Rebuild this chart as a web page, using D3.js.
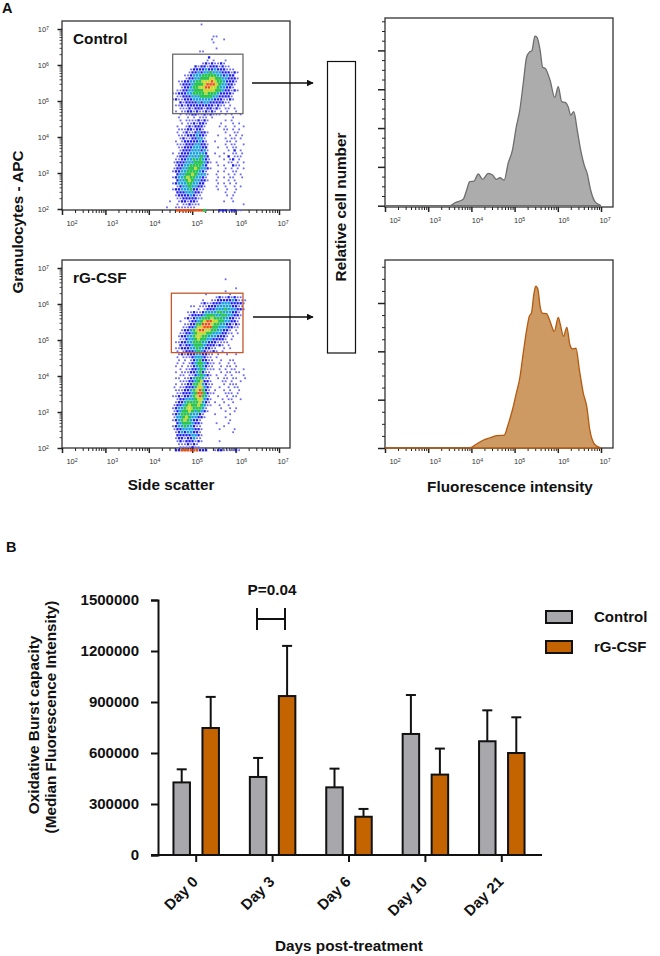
<!DOCTYPE html>
<html>
<head>
<meta charset="utf-8">
<script src="https://cdn.jsdelivr.net/npm/d3@7/dist/d3.min.js"></script>
<style>
html,body{margin:0;padding:0;background:#fff}
svg{display:block}
text{font-family:"Liberation Sans",Arial,sans-serif;fill:#111}
</style>
</head>
<body>
<svg id="fig" width="660" height="956"></svg>
<script>
// Flow cytometry density maps: each digit is the density class of one grid cell,
// rows run downward in log10 APC, columns run rightward in log10 side scatter.
const densityControl = [
"000000000000000000000000000000",
"000000000000010000000000000000",
"000000000000000000000000000000",
"000000000000000000000000000000",
"000000000000000000000000000000",
"000000000000000001100000000000",
"000000000000000001000100000000",
"000000000000000001000000000000",
"000000000000000000000000000000",
"000000000000000000100000000000",
"000000000000011000000000000000",
"000000000000000000000000000000",
"000000000000000020000000000000",
"000000000000000101000100000000",
"000000000000001212112100000000",
"000000000002122122212110000000",
"000000000012222322322211100000",
"000000000122323343332221210000",
"000000001123334444433232200000",
"000000001223344455443322210000",
"000000112233445556544322210000",
"000000122234445666543322100000",
"000000012234455665543322100000",
"000001122334445555443221210000",
"000011222334444544432222100000",
"000001122233344443322221000000",
"000012112223333333222112100000",
"000000212222323322222110000000",
"000001121222222222121101000000",
"000000111212221221210110100000",
"000001011221211212101010010000",
"000000101122112121110101001000",
"000000100101011101000000100000",
"000000101111212100000101000000",
"000000010112122100001000101000",
"000001001212221000010100100100",
"000000111221221000000110101000",
"000001012112322100000100110000",
"000000111222322100010001010100",
"000000121122331000000101101000",
"000001012222232100100011010000",
"000001112223322100000101100100",
"000000112223332200010010110000",
"000000122233323100000010201000",
"000010122233333200100100110100",
"000001222333343200010020111000",
"000001122334343210000101201000",
"000012223334443210100011010100",
"000001223344443200010100211000",
"000012233445433210000101010100",
"000012233444432100010100110000",
"000002334454333100100010101000",
"000012334544332100010101100100",
"000002334543322100100010100000",
"000012333443322000010101010000",
"000001233433221000100100101000",
"000012233342211000010010010000",
"000002223332210000000100100000",
"000001222232110000000010100000",
"000001122222110000000001000000",
"000100122122100000000100100000",
"000001011211100000000000000100",
"001001111111000000000000000000",
"000006666666664000022212211000"
];
const densityTreated = [
"000000000000000000000000000000",
"000000000000000000000100000000",
"000000000000000000000000000000",
"000000000000000000000000000000",
"000000000000000000000000010000",
"000000000000000000000100000000",
"000000000000000100000001000000",
"000000000000000000121121211000",
"000000000000001001122222321110",
"000000000000012112223332222100",
"000000000011011122233333221100",
"000000000000101222333433322100",
"000000000112112333344333221000",
"000000000122223444334433221000",
"000000001212334445444332211000",
"000000100122345665544332210000",
"000000001122446665443322121000",
"000000011223556664433322110000",
"000000012234566554433221010000",
"000000112234555443332211010000",
"000000122334554433322210100000",
"000000112334544332222101000000",
"000001122334443322211110000000",
"000000212234443222121010000000",
"000001122233433221100101000000",
"000001012223432112101000000000",
"000000121222332211010010010000",
"000001011123332110100000000000",
"000000101012342211001001100000",
"000001010123443211010010100000",
"000001010112343211001011010000",
"000000101122343111010101100100",
"000001011122342110001011011000",
"000000110112343210100101000100",
"000001101123443110010110110010",
"000000111223452210001101001000",
"000001011224453211000101110000",
"000010112223553210010010110000",
"000001112234564210100101001000",
"000001122234664211000111010000",
"000011212234564310010010110000",
"000001223334553210001011001000",
"000001223444453210100100100000",
"000012234544543110010010000000",
"000012334554443100001001010000",
"000012344543432100000100100000",
"000012344433321000100001000000",
"000013345433221000000100000000",
"000012345432210000000001000000",
"000002344432210000100010000000",
"000012334332110000000100000000",
"000012233332210000010000100000",
"000001232332210000000000100000",
"000002222233210000000000000000",
"000001221223110000000000000000",
"000001212221210000010000000000",
"000000111212100000000000000000",
"000000111121100000000000000000",
"000002266666622200122111121000"
];
const densityColors = ["none","#6a6af2","#1c1ce6","#18a0dc","#2cc454","#c8d830","#ec5014"];
const densityDotSize = [0,1.8,2.3,2.6,3,3,2.6];

// Log10 location of the density grid and the size of one of its cells, in decades.
const gridFirstCol = 4.28;
const gridColStep = 0.0693;
const gridRowStep = 0.0833;
const gridFirstRowControl = 7.21;
const gridFirstRowTreated = 6.77;

// Gates, in log10 units of side scatter and APC.
const gateControl = {x0: 4.55, x1: 6.17, y0: 4.65, y1: 6.30};
const gateTreated = {x0: 4.52, x1: 6.17, y0: 4.65, y1: 6.30};

// Fluorescence histograms: log10 intensity and relative count.
const histControlX = [2,3.34,3.5,3.62,3.81,3.89,3.96,4.06,4.16,4.26,4.39,4.49,4.58,4.66,4.76,4.85,4.95,5.04,5.12,5.2,5.28,5.35,5.4,5.47,5.52,5.59,5.65,5.71,5.82,5.93,6.01,6.09,6.17,6.24,6.3,6.37,6.45,6.53,6.61,6.68,6.76,6.86,7];
const histControlY = [0,0,0,1.9,4.1,10.1,15.5,15.9,20.4,17,20.8,19.7,17,18,16.5,27.3,35.8,50.9,61.6,78.8,95.9,99.1,99.8,109.2,108.4,100.2,89.1,88.4,80.9,69.7,76.6,67,66.5,63.7,58.4,60.5,48.7,35.8,26.2,20.8,10.1,2.6,0];
const histTreatedX = [2,3.89,4,4.12,4.27,4.43,4.58,4.76,4.85,4.95,5.04,5.12,5.2,5.28,5.34,5.39,5.45,5.49,5.54,5.59,5.64,5.74,5.82,5.92,6.01,6.06,6.13,6.21,6.28,6.34,6.42,6.5,6.59,6.67,6.74,6.86,7];
const histTreatedY = [0,0,0.3,2.1,4,5.3,6.4,6.7,12.1,19.8,28.4,36.2,49.1,61.2,68.1,69.8,80.2,83.7,82,73.3,69.8,69.5,65.5,60.3,67.6,63.8,57.8,62.4,53.4,51.3,51.6,40.4,28.4,21.5,9.5,1.7,0];

// Oxidative burst bars.
const days = ["Day 0","Day 3","Day 6","Day 10","Day 21"];
const groups = ["Control","rG-CSF"];
const controlMeans = [427000,459000,398000,712000,669000];
const controlUpper = [504000,571000,508000,941000,851000];
const treatedMeans = [747000,935000,225000,473000,600000];
const treatedUpper = [930000,1230000,271000,626000,810000];
const burstTicks = [0,300000,600000,900000,1200000,1500000];
const decades = [2,3,4,5,6,7];

const GREY = "#a8a8ac", ORANGE = "#c46400", INK = "#111";
const groupFill = {"Control": GREY, "rG-CSF": ORANGE};
const svg = d3.select("#fig");

// Dots in the density maps are slightly soft.
svg.append("defs").append("filter").attr("id", "soft")
  .append("feGaussianBlur").attr("stdDeviation", 0.3);

function label(x, y, str, opts = {}) {
  const t = svg.append("text").attr("x", x).attr("y", y).text(str)
    .attr("font-size", opts.size || 15.3).attr("font-weight", opts.weight || "bold")
    .attr("text-anchor", opts.anchor || "middle");
  if (opts.rotate !== undefined) t.attr("transform", `rotate(${opts.rotate} ${x} ${y})`);
  return t;
}

// All tick positions of a log axis between 10^2 and 10^7.
const logTicks = d3.range(2, 7).flatMap(e => d3.range(1, 10).map(m => m * 10 ** e)).concat(1e7);
const isMajor = v => Math.abs(Math.log10(v) % 1) < 1e-9;
const labelShift = [10, 7, 6, 5, 6, 4];

function decadeLabel(sel, x, y, exp, anchor) {
  const t = sel.append("text").attr("x", x).attr("y", y).attr("text-anchor", anchor)
    .attr("font-size", 7.5).attr("font-weight", "normal").style("fill", "#333");
  t.append("tspan").text("10");
  t.append("tspan").text(exp).attr("font-size", 5.2).attr("dy", -2.5);
}

// Shared frame and bottom log axis for the four cytometry panels.
function flowFrame(box, xScale) {
  const g = svg.append("g");
  g.append("rect").attr("x", box.x0).attr("y", box.y0)
    .attr("width", box.x1 - box.x0).attr("height", box.y1 - box.y0)
    .attr("fill", "none").attr("stroke", "#333").attr("stroke-width", 1.3);
  const axis = g.append("g").attr("transform", `translate(0,${box.y1})`)
    .call(d3.axisBottom(xScale).tickValues(logTicks).tickSize(3).tickFormat(""));
  axis.select(".domain").remove();
  axis.selectAll(".tick line").attr("stroke", "#222")
    .attr("y2", d => isMajor(d) ? 5 : 3).attr("stroke-width", d => isMajor(d) ? 1.5 : 1);
  decades.forEach((e, i) =>
    decadeLabel(g, xScale(10 ** e) + labelShift[i], box.y1 + 16, e, "middle"));
  return g;
}

function dotPanel(box, yBase, name, grid, firstRow, gate, gateColor) {
  const x = d3.scaleLog().domain([1e2, 1e7]).range([62, 279]);
  const y = d3.scaleLog().domain([1e2, 1e7]).range([yBase, yBase - 180]);
  const g = flowFrame(box, x);
  const axis = g.append("g").attr("transform", `translate(${box.x0},0)`)
    .call(d3.axisLeft(y).tickValues(logTicks).tickSize(3).tickFormat(""));
  axis.select(".domain").remove();
  axis.selectAll(".tick line").attr("stroke", "#222")
    .attr("x2", d => isMajor(d) ? -4.5 : -2.5).attr("stroke-width", d => isMajor(d) ? 1.5 : 0.8);
  decades.forEach(e => decadeLabel(g, box.x0 - 13, y(10 ** e) + 3, e, "end"));

  // Odd rows sit half a cell across so the map reads as scattered events.
  const cells = grid.flatMap((row, r) => row.split("").map((c, k) => ({
    lx: gridFirstCol + (k + (r % 2) / 2) * gridColStep, ly: firstRow - r * gridRowStep, level: +c
  }))).filter(d => d.level > 0);
  g.append("g").attr("filter", "url(#soft)").selectAll("rect").data(cells).join("rect")
    .attr("x", d => x(10 ** d.lx) - densityDotSize[d.level] / 2)
    .attr("y", d => y(10 ** d.ly) - densityDotSize[d.level] / 2)
    .attr("width", d => densityDotSize[d.level]).attr("height", d => densityDotSize[d.level])
    .attr("fill", d => densityColors[d.level]);

  g.append("rect").attr("x", x(10 ** gate.x0)).attr("y", y(10 ** gate.y1))
    .attr("width", x(10 ** gate.x1) - x(10 ** gate.x0))
    .attr("height", y(10 ** gate.y0) - y(10 ** gate.y1))
    .attr("fill", "none").attr("stroke", gateColor).attr("stroke-width", 1.3);
  label(box.x0 + 11, box.y0 + 23, name, {anchor: "start", size: 15.3});
}

function histPanel(box, yScale, xs, ys, fill, line, yTicks) {
  const x = d3.scaleLog().domain([1e2, 1e7]).range([385, 601]);
  const g = flowFrame(box, x);
  const axis = g.append("g").attr("transform", `translate(${box.x0},0)`)
    .call(d3.axisLeft(yScale).tickValues(yTicks).tickFormat(""));
  axis.select(".domain").remove();
  axis.selectAll(".tick line").attr("stroke", "#222")
    .attr("x2", d => d % 25 === 0 ? -7 : -3).attr("stroke-width", d => d % 25 === 0 ? 1.5 : 1);
  const area = d3.area().x(d => x(10 ** d[0])).y0(yScale(0)).y1(d => yScale(d[1])).curve(d3.curveMonotoneX);
  g.append("path").datum(d3.zip(xs, ys)).attr("d", area)
    .attr("fill", fill).attr("stroke", line).attr("stroke-width", 1.3);
}

dotPanel({x0: 62, x1: 290, y0: 21, y1: 210}, 209, "Control", densityControl, gridFirstRowControl, gateControl, "#6c6c6c");
dotPanel({x0: 62, x1: 290, y0: 260, y1: 448}, 448, "rG-CSF", densityTreated, gridFirstRowTreated, gateTreated, "#c4582c");

histPanel({x0: 385, x1: 613, y0: 18, y1: 207},
  d3.scaleLinear().domain([0, 100]).range([205.7, 50.4]),
  histControlX, histControlY, "#acacac", "#6e6e6e", d3.range(0, 125, 6.25));
histPanel({x0: 385, x1: 613, y0: 260, y1: 448},
  d3.scaleLinear().domain([0, 75]).range([448, 303]),
  histTreatedX, histTreatedY, "#cc9a62", "#b45a10", d3.range(0, 95, 6.25));

label(2, 13, "A", {anchor: "start", size: 14.5});
label(6, 552, "B", {anchor: "start", size: 14.5});
label(23, 222, "Granulocytes - APC", {rotate: -90});
label(171, 490, "Side scatter");
label(510, 492, "Fluorescence intensity");

// Box naming the shared histogram axis, and the arrows pointing at it.
svg.append("rect").attr("x", 327.5).attr("y", 61.5).attr("width", 28).attr("height", 291.5)
  .attr("fill", "#fff").attr("stroke", INK).attr("stroke-width", 1.2);
label(345.5, 207, "Relative cell number", {rotate: -90});
svg.select("defs").append("marker").attr("id", "head").attr("viewBox", "0 0 10 10")
  .attr("refX", 9).attr("refY", 5).attr("markerWidth", 7).attr("markerHeight", 7)
  .attr("markerUnits", "userSpaceOnUse").attr("orient", "auto")
  .append("path").attr("d", "M0,0L10,5L0,10Z").attr("fill", INK);
[[252, 83], [253, 317]].forEach(([ax, ay]) =>
  svg.append("line").attr("x1", ax).attr("x2", 313).attr("y1", ay).attr("y2", ay)
    .attr("stroke", INK).attr("stroke-width", 1.5).attr("marker-end", "url(#head)"));

// Panel B: grouped bars with upper error bars.
const bandX = d3.scaleBand().domain(days).range([158, 540]).padding(0);
const groupX = d3.scaleBand().domain(groups)
  .range([bandX.bandwidth() / 2 - 22.75, bandX.bandwidth() / 2 + 22.75])
  .paddingInner(0.431).paddingOuter(0);
const burstY = d3.scaleLinear().domain([0, 1500000]).range([855, 600]);

const barRows = days.flatMap((day, i) => [
  {day, group: "Control", mean: controlMeans[i], upper: controlUpper[i]},
  {day, group: "rG-CSF", mean: treatedMeans[i], upper: treatedUpper[i]}
]);
const barG = svg.append("g").selectAll("g").data(barRows).join("g")
  .attr("transform", d => `translate(${bandX(d.day) + groupX(d.group)},0)`);
const bw = groupX.bandwidth();
barG.append("line").attr("x1", bw / 2).attr("x2", bw / 2)
  .attr("y1", d => burstY(d.mean)).attr("y2", d => burstY(d.upper))
  .attr("stroke", INK).attr("stroke-width", 2);
barG.append("line").attr("x1", bw / 2 - 5).attr("x2", bw / 2 + 5)
  .attr("y1", d => burstY(d.upper)).attr("y2", d => burstY(d.upper))
  .attr("stroke", INK).attr("stroke-width", 2);
barG.append("rect").attr("width", bw)
  .attr("y", d => burstY(d.mean)).attr("height", d => burstY(0) - burstY(d.mean))
  .attr("fill", d => groupFill[d.group]).attr("stroke", INK).attr("stroke-width", 2);

const yAxisB = svg.append("g").attr("transform", "translate(158,0)")
  .call(d3.axisLeft(burstY).tickValues(burstTicks).tickFormat(d3.format("d")).tickSize(7).tickPadding(12));
yAxisB.select(".domain").attr("stroke", INK).attr("stroke-width", 2);
yAxisB.selectAll(".tick line").attr("stroke", INK).attr("stroke-width", 2);
yAxisB.selectAll("text").attr("font-size", 15).attr("font-weight", "bold")
  .style("font-family", '"Liberation Sans",Arial,sans-serif');

const xAxisB = svg.append("g").attr("transform", "translate(0,855)")
  .call(d3.axisBottom(bandX).tickSize(7));
xAxisB.select(".domain").attr("d", "M151,0H542").attr("stroke", INK).attr("stroke-width", 2);
xAxisB.selectAll(".tick line").attr("stroke", INK).attr("stroke-width", 2);
xAxisB.selectAll("text").attr("font-size", 15).attr("font-weight", "bold")
  .style("font-family", '"Liberation Sans",Arial,sans-serif')
  .attr("text-anchor", "end").attr("x", 0).attr("y", 0).attr("dy", "0.35em")
  .attr("transform", "translate(-1,24) rotate(-45)");

label(39, 725, "Oxidative Burst capacity", {rotate: -90});
label(56, 717, "(Median Fluorescence Intensity)", {rotate: -90});
label(349, 951, "Days post-treatment");

// Significance bracket between the Day 3 bars.
label(272, 595, "P=0.04");
const bracket = svg.append("g").attr("stroke", INK).attr("stroke-width", 2);
bracket.append("line").attr("x1", 257).attr("x2", 285).attr("y1", 619).attr("y2", 619);
bracket.append("line").attr("x1", 257).attr("x2", 257).attr("y1", 608).attr("y2", 630);
bracket.append("line").attr("x1", 285).attr("x2", 285).attr("y1", 608).attr("y2", 630);

// Legend.
const legendY = d3.scalePoint().domain(groups).range([617, 647]);
const legend = svg.append("g").selectAll("g").data(groups).join("g")
  .attr("transform", d => `translate(546,${legendY(d)})`);
legend.append("rect").attr("y", -6).attr("width", 26).attr("height", 12)
  .attr("fill", d => groupFill[d]).attr("stroke", INK).attr("stroke-width", 2);
legend.append("text").attr("x", 48).attr("y", 5).text(d => d)
  .attr("font-size", 15).attr("font-weight", "bold");
</script>
</body>
</html>
